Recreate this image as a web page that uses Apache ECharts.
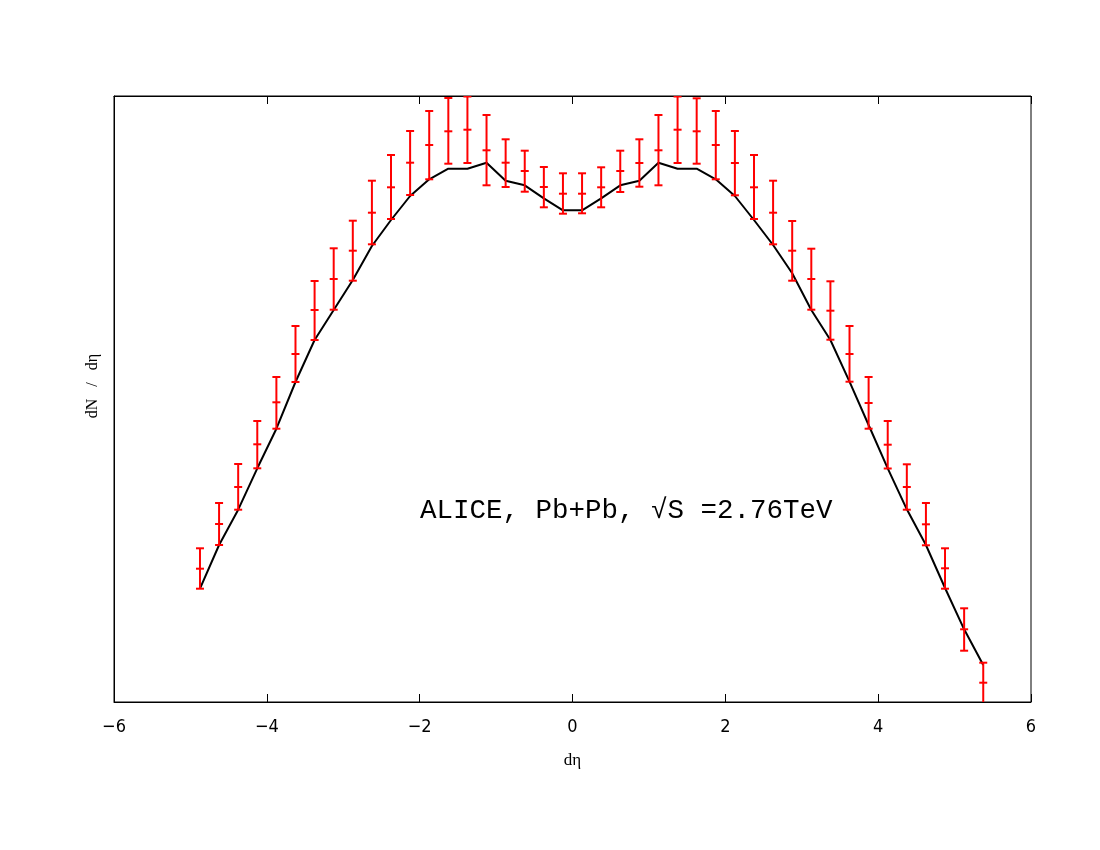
<!DOCTYPE html>
<html>
<head>
<meta charset="utf-8">
<script src="https://cdn.jsdelivr.net/npm/echarts@6/dist/echarts.min.js"></script>
<style>
html, body { margin: 0; padding: 0; background: #fff; }
#chart { width: 1100px; height: 850px; }
</style>
</head>
<body>
<div id="chart"></div>
<script>
// pseudorapidity bins
const eta = [-4.875, -4.625, -4.375, -4.125, -3.875, -3.625, -3.375, -3.125, -2.875, -2.625,
  -2.375, -2.125, -1.875, -1.625, -1.375, -1.125, -0.875, -0.625, -0.375, -0.125,
  0.125, 0.375, 0.625, 0.875, 1.125, 1.375, 1.625, 1.875, 2.125, 2.375,
  2.625, 2.875, 3.125, 3.375, 3.625, 3.875, 4.125, 4.375, 4.625, 4.875,
  5.125, 5.375]
// ALICE data (arbitrary units, no y scale in the original)
const dndeta = [133.3, 178, 215, 257.7, 299.7, 348, 392, 423, 451.3, 489.3,
  514.7, 539.3, 557, 570.7, 572.3, 551.7, 539.3, 531, 515, 508.3,
  508.3, 514.7, 531, 539, 551.7, 572.3, 570.7, 557, 539, 514.7,
  489.3, 451.3, 423, 391.3, 348, 299, 257.3, 215, 177.7, 133.7,
  72.7, 19.3]
const errHigh = [153.7, 199, 238, 281, 325, 376, 421, 453.7, 481.3, 521.3,
  547, 571, 591, 604, 605.5, 587, 562.7, 551.3, 535, 528.7,
  528.7, 534.7, 551.3, 562.7, 587, 605.5, 603.7, 591, 571, 547,
  521.3, 481, 453.3, 420.7, 376, 325, 281, 237.7, 199, 153.7,
  93.7, 39.3]
const errLow = [113.3, 157, 192.3, 233.7, 273.3, 320, 362, 392.3, 421.3, 457.7,
  483, 507, 522.7, 538.3, 539, 516.7, 515, 510.3, 494.7, 488.3,
  488.7, 494.7, 510, 515.3, 516.7, 539, 538.3, 522.7, 506.7, 483,
  457.7, 421.3, 392.3, 362.3, 320.3, 273.3, 233.5, 192.3, 156.7, 113.3,
  51.3, -1]
// model curve
const model = [113.3, 157, 192.3, 233.7, 273.3, 320, 362, 392, 422, 456,
  482, 506, 522.7, 533.3, 533.3, 539.3, 521.3, 516.7, 503.7, 491.7,
  491.7, 503.7, 516.7, 521.3, 539.3, 533.3, 533.3, 522.7, 506, 482,
  457, 428.7, 392, 362, 320.3, 277, 233.7, 192.7, 157, 114,
  72.7, 37]
const label = 'ALICE, Pb+Pb, \u221AS =2.76TeV'
const yTitle = 'dN   /   d\u03B7'

const chart = echarts.init(document.getElementById('chart'))

const RED = '#ff0000'
function errorBar(params, api) {
  const x = api.value(0)
  const pC = api.coord([x, api.value(1)])
  const pLo = api.coord([x, api.value(2)])
  const pHi = api.coord([x, api.value(3)])
  const hw = 4
  const st = { stroke: RED, lineWidth: 2 }
  return {
    type: 'group',
    children: [
      { type: 'line', shape: { x1: pHi[0], y1: pHi[1], x2: pLo[0], y2: pLo[1] }, style: st },
      { type: 'line', shape: { x1: pHi[0] - hw, y1: pHi[1], x2: pHi[0] + hw, y2: pHi[1] }, style: st },
      { type: 'line', shape: { x1: pLo[0] - hw, y1: pLo[1], x2: pLo[0] + hw, y2: pLo[1] }, style: st },
      { type: 'line', shape: { x1: pC[0] - hw, y1: pC[1], x2: pC[0] + hw, y2: pC[1] }, style: st }
    ]
  }
}

const tickFont = "'Liberation Sans Narrow', 'DejaVu Sans Condensed', sans-serif"
const serif = "'Liberation Serif', 'DejaVu Serif', serif"

chart.setOption({
  animation: false,
  backgroundColor: '#fff',
  grid: {
    left: 114, right: 69, top: 96, bottom: 148,
    show: true, borderColor: '#000', borderWidth: 1
  },
  xAxis: [{
    type: 'value', min: -6, max: 6, interval: 2,
    name: 'd\u03B7', nameLocation: 'middle', nameGap: 50,
    nameTextStyle: { fontFamily: serif, fontSize: 17, color: '#000' },
    axisLine: { show: true, onZero: false, lineStyle: { color: '#000', width: 1 } },
    axisTick: { show: true, inside: true, length: 8, lineStyle: { color: '#000' } },
    axisLabel: {
      fontFamily: tickFont, fontSize: 18, color: '#000', margin: 16,
      formatter: v => String(v).replace('-', '\u2212')
    },
    splitLine: { show: false }
  }, {
    type: 'value', min: -6, max: 6, interval: 2, position: 'top',
    axisLine: { show: true, onZero: false, lineStyle: { color: '#000', width: 1 } },
    axisTick: { show: true, inside: true, length: 8, lineStyle: { color: '#000' } },
    axisLabel: { show: false },
    splitLine: { show: false }
  }],
  yAxis: {
    type: 'value', min: 0, max: 606,
    axisLine: { show: true, onZero: false, lineStyle: { color: '#000' } },
    axisTick: { show: false },
    axisLabel: { show: false },
    splitLine: { show: false }
  },
  series: [{
    name: 'model',
    type: 'line',
    data: eta.map((x, i) => [x, model[i]]),
    showSymbol: false,
    symbol: 'none',
    lineStyle: { color: '#000', width: 2 },
    z: 2
  }, {
    name: 'ALICE',
    type: 'custom',
    clip: true,
    data: eta.map((x, i) => [x, dndeta[i], errLow[i], errHigh[i]]),
    encode: { x: 0, y: [1, 2, 3] },
    renderItem: errorBar,
    z: 3
  }],
  graphic: [{
    type: 'text',
    x: 93, y: 386,
    rotation: Math.PI / 2,
    style: {
      text: yTitle, font: "16px 'Liberation Serif', serif", fill: '#000',
      align: 'center', verticalAlign: 'middle'
    }
  }, {
    type: 'text',
    left: 420, top: 497,
    style: { text: label, font: "27.5px 'Liberation Mono', 'DejaVu Sans Mono', monospace", fill: '#000' }
  }]
})
</script>
</body>
</html>
